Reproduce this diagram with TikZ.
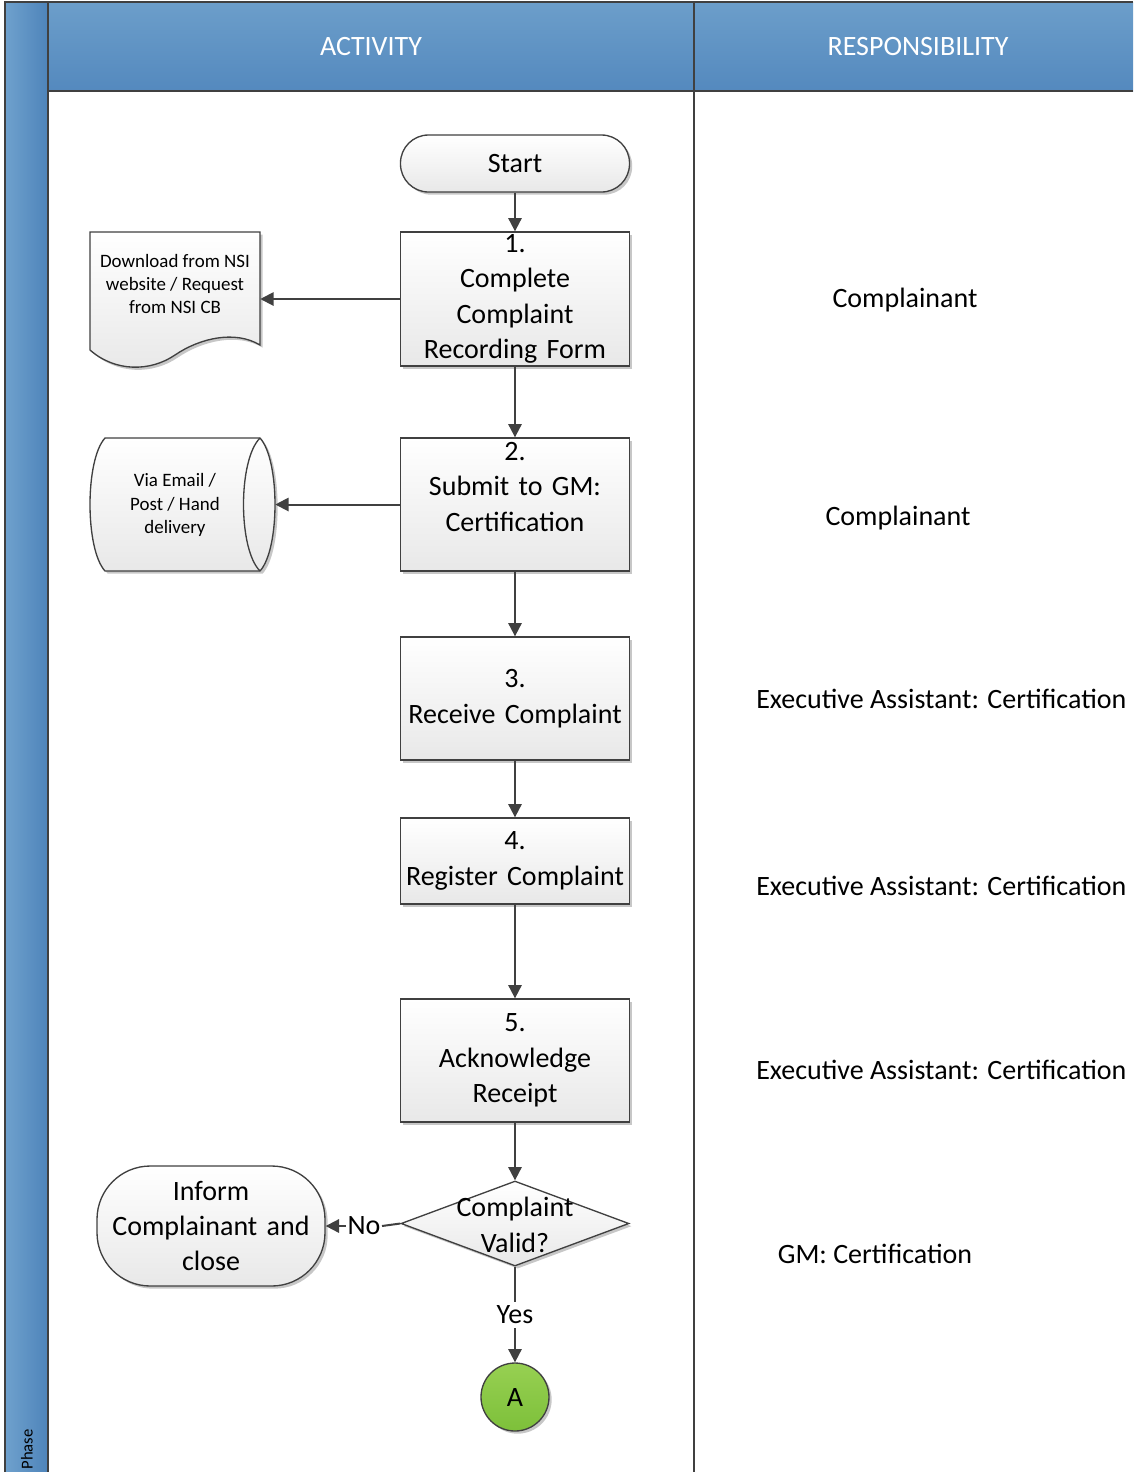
\documentclass[tikz,border=0pt]{standalone}
\usepackage{fontspec}
\setmainfont{Carlito}
\usetikzlibrary{shapes.geometric,shadows,arrows.meta}
\definecolor{lc}{HTML}{404040}
\definecolor{hdtop}{HTML}{6C9ECA}
\definecolor{hdbot}{HTML}{5489BE}
\definecolor{phl}{HTML}{6FA1CD}
\definecolor{phr}{HTML}{4E84BA}
\definecolor{gA}{HTML}{97D052}
\definecolor{gB}{HTML}{7DC03A}
\begin{document}
\begin{tikzpicture}[x=0.75pt,y=-0.75pt,
  shad/.style={drop shadow={shadow xshift=2pt,shadow yshift=-2pt,opacity=0.22,fill=black}},
  shapefill/.style={draw=lc,line width=1pt,top color=white,bottom color=black!9,shad},
  big/.style={font=\fontsize{21}{26.6}\selectfont},
  small/.style={font=\fontsize{14.2}{17.6}\selectfont},
  box/.style={shapefill,big,rectangle,minimum width=171.75pt,text width=168pt,align=center,inner sep=0pt},
  arr/.style={draw=lc,line width=1.5pt,-{Triangle[length=10pt,width=10pt]}},
  plain/.style={draw=lc,line width=1.5pt},
  frame/.style={draw=lc,line width=1.5pt},
  hdr/.style={font=\fontsize{21}{25}\selectfont,text=white}]
\useasboundingbox (0,0) rectangle (1133,1472);
% lanes
\fill[top color=hdtop,bottom color=hdbot] (48,2) rectangle (1133,91);
\fill[left color=phl,right color=phr] (5,2) rectangle (48,1472);
\draw[frame] (5,1472) -- (5,2) -- (1133,2);
\draw[frame] (48,2) -- (48,1472);
\draw[frame] (694,2) -- (694,1472);
\draw[frame] (48,91) -- (1133,91);
\node[hdr] (hact) at (371,47) {ACTIVITY};
\node[hdr] (hresp) at (918,47) {RESPONSIBILITY};
\node[font=\fontsize{12.5}{15}\selectfont,rotate=90,anchor=west,inner sep=1pt] (phase) at (27,1471) {Phase};
% main flow
\node[box,minimum height=42.75pt,rounded corners=21pt] (start) at (515,163.5) {Start};
\node[box,minimum height=100.5pt] (b1) at (515,299) {1.\\Complete\\Complaint\\Recording Form};
\node[box,minimum height=99.75pt] (b2) at (515,504.5) {2.\\Submit to GM:\\Certification\\~};
\node[box,minimum height=92.25pt] (b3) at (515,698.5) {3.\\Receive Complaint};
\node[box,minimum height=64.5pt] (b4) at (515,861) {4.\\Register Complaint};
\node[box,minimum height=92.25pt] (b5) at (515,1060.5) {5.\\Acknowledge\\Receipt};
\node[diamond,shapefill,minimum width=171pt,minimum height=63.75pt,inner sep=0pt] (dec) at (515,1223.5) {};
\node[big,align=center] (dectext) at (515,1225) {Complaint\\Valid?};
\node[box,minimum width=171pt,text width=168pt,minimum height=90pt,rounded corners=40pt] (inform) at (211,1226) {Inform\\Complainant and\\close};
\node[circle,draw=lc,line width=1pt,top color=gA,bottom color=gB,shad,minimum size=51pt,inner sep=0pt,big] (A) at (515,1397) {A};
\node[big,inner sep=1pt] (no) at (364,1226) {No};
\node[big,inner sep=3pt] (yes) at (515,1315) {Yes};
% document shape
\node[minimum width=127.5pt,minimum height=100pt,inner sep=0pt] (doc) at (175,299) {};
\path[shapefill] (90,232) -- (260,232) -- (260,345)
  .. controls (235,330) and (200,338) .. (175,355)
  .. controls (150,372) and (115,372) .. (90,350) -- cycle;
\node[small,align=center] (doctext) at (175,284) {Download from NSI\\website / Request\\from NSI CB};
% stored data shape
\node[minimum width=138.75pt,minimum height=99.75pt,inner sep=0pt] (store) at (182.5,504.5) {};
\path[shapefill] (105,438) -- (260,438) .. controls (280,460) and (280,549) .. (260,571)
  -- (105,571) .. controls (85,549) and (85,460) .. (105,438) -- cycle;
\draw[draw=lc,line width=1pt] (260,438) .. controls (238,460) and (238,549) .. (260,571);
\node[small,align=center] (storetext) at (175,505) {Via Email /\\Post / Hand\\delivery};
% connectors
\draw[arr] (start) -- (b1);
\draw[arr] (b1.west) -- (doc.east);
\draw[arr] (b1) -- (b2);
\draw[arr] (b2.west) -- (store.east);
\draw[arr] (b2) -- (b3);
\draw[arr] (b3) -- (b4);
\draw[arr] (b4) -- (b5);
\draw[arr] (b5.south) -- (dec.north);
\draw[plain] (dec.west) -- (no.east);
\draw[arr] (no.west) -- (inform.east);
\draw[plain] (dec.south) -- (yes.north);
\draw[arr] (yes.south) -- (A.north);
% responsibility
\node[big] (r1) at (905,300) {Complainant};
\node[big] (r2) at (898,518) {Complainant};
\node[big,anchor=west,inner sep=0pt] (r3) at (756,699) {Executive Assistant: Certification};
\node[big,anchor=west,inner sep=0pt] (r4) at (756,886) {Executive Assistant: Certification};
\node[big,anchor=west,inner sep=0pt] (r5) at (756,1070) {Executive Assistant: Certification};
\node[big] (r6) at (875,1254) {GM: Certification};
\end{tikzpicture}
\end{document}
